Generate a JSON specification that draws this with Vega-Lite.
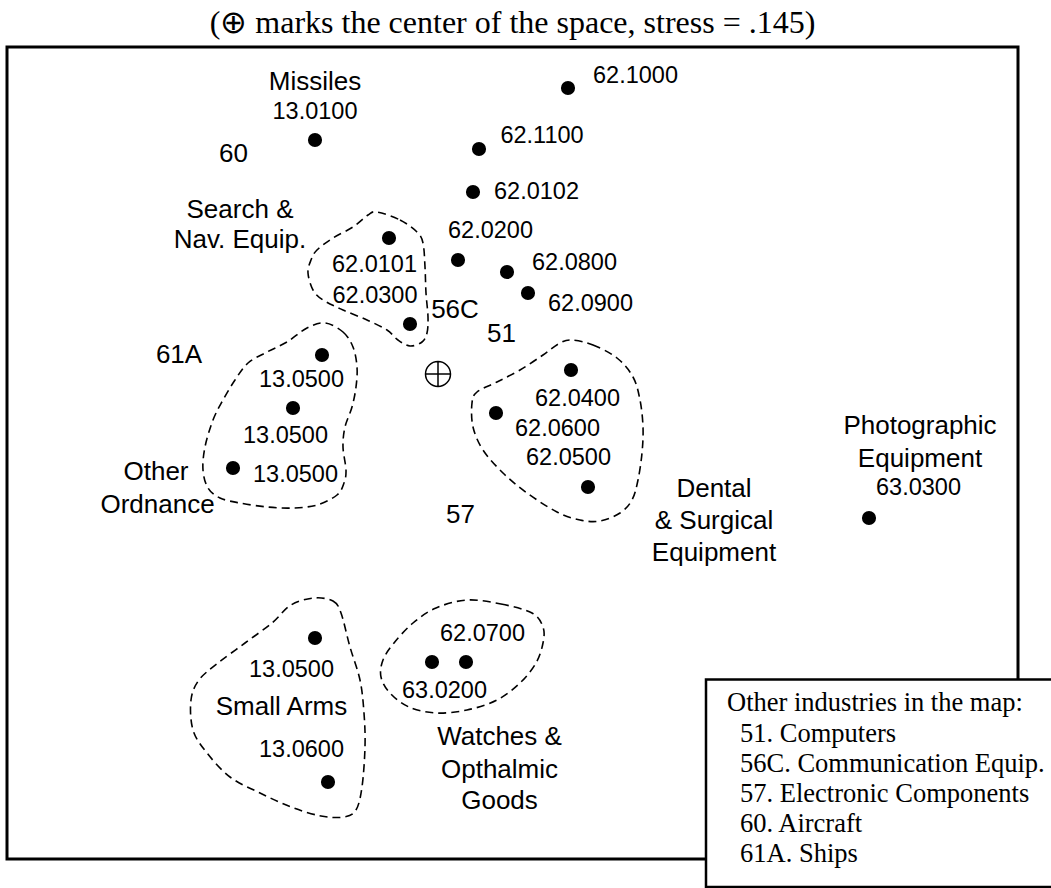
{
  "$schema": "https://vega.github.io/schema/vega-lite/v6.json",
  "width": 1011,
  "height": 812,
  "autosize": {"type": "none"},
  "padding": {"left": 7, "top": 47, "right": 33, "bottom": 29},
  "background": "white",
  "title": {
    "text": "(⊕ marks the center of the space, stress = .145)",
    "font": "Liberation Serif",
    "fontSize": 32,
    "fontWeight": "normal",
    "color": "black",
    "offset": 7
  },
  "config": {"view": {"stroke": "black", "strokeWidth": 3}},
  "encoding": {
    "x": {"field": "x", "type": "quantitative", "axis": null, "scale": {"domain": [-4.31, 5.80], "nice": false, "zero": false}},
    "y": {"field": "y", "type": "quantitative", "axis": null, "scale": {"domain": [-4.85, 3.27], "nice": false, "zero": false}}
  },
  "layer": [
    {
      "data": {"values": [
        {"shape": "nav", "ord": 1, "x": -0.61, "y": 1.62}, {"shape": "nav", "ord": 2, "x": -0.38, "y": 1.54}, {"shape": "nav", "ord": 3, "x": -0.21, "y": 1.42}, {"shape": "nav", "ord": 4, "x": -0.15, "y": 1.31}, {"shape": "nav", "ord": 5, "x": -0.13, "y": 1.07}, {"shape": "nav", "ord": 6, "x": -0.12, "y": 0.81}, {"shape": "nav", "ord": 7, "x": -0.10, "y": 0.57}, {"shape": "nav", "ord": 8, "x": -0.11, "y": 0.41}, {"shape": "nav", "ord": 9, "x": -0.16, "y": 0.32}, {"shape": "nav", "ord": 10, "x": -0.28, "y": 0.28}, {"shape": "nav", "ord": 11, "x": -0.40, "y": 0.34}, {"shape": "nav", "ord": 12, "x": -0.51, "y": 0.44}, {"shape": "nav", "ord": 13, "x": -0.71, "y": 0.54}, {"shape": "nav", "ord": 14, "x": -0.95, "y": 0.64}, {"shape": "nav", "ord": 15, "x": -1.15, "y": 0.74}, {"shape": "nav", "ord": 16, "x": -1.25, "y": 0.84}, {"shape": "nav", "ord": 17, "x": -1.30, "y": 1.01}, {"shape": "nav", "ord": 18, "x": -1.27, "y": 1.14}, {"shape": "nav", "ord": 19, "x": -1.21, "y": 1.24}, {"shape": "nav", "ord": 20, "x": -1.05, "y": 1.36}, {"shape": "nav", "ord": 21, "x": -0.85, "y": 1.47}, {"shape": "nav", "ord": 22, "x": -0.70, "y": 1.59},
        {"shape": "ord", "ord": 1, "x": -1.13, "y": 0.51}, {"shape": "ord", "ord": 2, "x": -0.95, "y": 0.42}, {"shape": "ord", "ord": 3, "x": -0.85, "y": 0.27}, {"shape": "ord", "ord": 4, "x": -0.81, "y": 0.07}, {"shape": "ord", "ord": 5, "x": -0.82, "y": -0.13}, {"shape": "ord", "ord": 6, "x": -0.86, "y": -0.33}, {"shape": "ord", "ord": 7, "x": -0.93, "y": -0.53}, {"shape": "ord", "ord": 8, "x": -0.95, "y": -0.73}, {"shape": "ord", "ord": 9, "x": -0.92, "y": -0.96}, {"shape": "ord", "ord": 10, "x": -0.94, "y": -1.09}, {"shape": "ord", "ord": 11, "x": -1.01, "y": -1.21}, {"shape": "ord", "ord": 12, "x": -1.21, "y": -1.31}, {"shape": "ord", "ord": 13, "x": -1.45, "y": -1.34}, {"shape": "ord", "ord": 14, "x": -1.71, "y": -1.33}, {"shape": "ord", "ord": 15, "x": -1.98, "y": -1.29}, {"shape": "ord", "ord": 16, "x": -2.18, "y": -1.24}, {"shape": "ord", "ord": 17, "x": -2.30, "y": -1.14}, {"shape": "ord", "ord": 18, "x": -2.35, "y": -0.96}, {"shape": "ord", "ord": 19, "x": -2.33, "y": -0.73}, {"shape": "ord", "ord": 20, "x": -2.25, "y": -0.46}, {"shape": "ord", "ord": 21, "x": -2.15, "y": -0.26}, {"shape": "ord", "ord": 22, "x": -2.03, "y": -0.06}, {"shape": "ord", "ord": 23, "x": -1.90, "y": 0.11}, {"shape": "ord", "ord": 24, "x": -1.71, "y": 0.22}, {"shape": "ord", "ord": 25, "x": -1.51, "y": 0.32}, {"shape": "ord", "ord": 26, "x": -1.31, "y": 0.46},
        {"shape": "dental", "ord": 1, "x": 1.34, "y": 0.34}, {"shape": "dental", "ord": 2, "x": 1.55, "y": 0.29}, {"shape": "dental", "ord": 3, "x": 1.79, "y": 0.16}, {"shape": "dental", "ord": 4, "x": 1.95, "y": -0.03}, {"shape": "dental", "ord": 5, "x": 2.02, "y": -0.26}, {"shape": "dental", "ord": 6, "x": 2.05, "y": -0.53}, {"shape": "dental", "ord": 7, "x": 2.04, "y": -0.79}, {"shape": "dental", "ord": 8, "x": 2.00, "y": -1.06}, {"shape": "dental", "ord": 9, "x": 1.94, "y": -1.26}, {"shape": "dental", "ord": 10, "x": 1.82, "y": -1.39}, {"shape": "dental", "ord": 11, "x": 1.62, "y": -1.47}, {"shape": "dental", "ord": 12, "x": 1.42, "y": -1.46}, {"shape": "dental", "ord": 13, "x": 1.19, "y": -1.38}, {"shape": "dental", "ord": 14, "x": 0.89, "y": -1.19}, {"shape": "dental", "ord": 15, "x": 0.65, "y": -0.99}, {"shape": "dental", "ord": 16, "x": 0.45, "y": -0.76}, {"shape": "dental", "ord": 17, "x": 0.35, "y": -0.53}, {"shape": "dental", "ord": 18, "x": 0.34, "y": -0.29}, {"shape": "dental", "ord": 19, "x": 0.39, "y": -0.18}, {"shape": "dental", "ord": 20, "x": 0.59, "y": -0.08}, {"shape": "dental", "ord": 21, "x": 0.82, "y": 0.04}, {"shape": "dental", "ord": 22, "x": 1.05, "y": 0.19}, {"shape": "dental", "ord": 23, "x": 1.22, "y": 0.31},
        {"shape": "arms", "ord": 1, "x": -1.24, "y": -2.24}, {"shape": "arms", "ord": 2, "x": -1.05, "y": -2.27}, {"shape": "arms", "ord": 3, "x": -0.97, "y": -2.39}, {"shape": "arms", "ord": 4, "x": -0.88, "y": -2.73}, {"shape": "arms", "ord": 5, "x": -0.78, "y": -3.06}, {"shape": "arms", "ord": 6, "x": -0.74, "y": -3.39}, {"shape": "arms", "ord": 7, "x": -0.73, "y": -3.73}, {"shape": "arms", "ord": 8, "x": -0.76, "y": -4.13}, {"shape": "arms", "ord": 9, "x": -0.82, "y": -4.36}, {"shape": "arms", "ord": 10, "x": -0.94, "y": -4.43}, {"shape": "arms", "ord": 11, "x": -1.17, "y": -4.42}, {"shape": "arms", "ord": 12, "x": -1.47, "y": -4.33}, {"shape": "arms", "ord": 13, "x": -1.78, "y": -4.19}, {"shape": "arms", "ord": 14, "x": -2.08, "y": -4.03}, {"shape": "arms", "ord": 15, "x": -2.31, "y": -3.79}, {"shape": "arms", "ord": 16, "x": -2.45, "y": -3.56}, {"shape": "arms", "ord": 17, "x": -2.47, "y": -3.26}, {"shape": "arms", "ord": 18, "x": -2.39, "y": -3.06}, {"shape": "arms", "ord": 19, "x": -2.20, "y": -2.89}, {"shape": "arms", "ord": 20, "x": -1.93, "y": -2.69}, {"shape": "arms", "ord": 21, "x": -1.66, "y": -2.49}, {"shape": "arms", "ord": 22, "x": -1.47, "y": -2.31},
        {"shape": "watch", "ord": 1, "x": 0.29, "y": -2.26}, {"shape": "watch", "ord": 2, "x": 0.63, "y": -2.30}, {"shape": "watch", "ord": 3, "x": 0.94, "y": -2.39}, {"shape": "watch", "ord": 4, "x": 1.05, "y": -2.53}, {"shape": "watch", "ord": 5, "x": 1.05, "y": -2.69}, {"shape": "watch", "ord": 6, "x": 0.98, "y": -2.89}, {"shape": "watch", "ord": 7, "x": 0.82, "y": -3.09}, {"shape": "watch", "ord": 8, "x": 0.59, "y": -3.26}, {"shape": "watch", "ord": 9, "x": 0.29, "y": -3.36}, {"shape": "watch", "ord": 10, "x": -0.02, "y": -3.39}, {"shape": "watch", "ord": 11, "x": -0.29, "y": -3.33}, {"shape": "watch", "ord": 12, "x": -0.48, "y": -3.19}, {"shape": "watch", "ord": 13, "x": -0.57, "y": -3.03}, {"shape": "watch", "ord": 14, "x": -0.55, "y": -2.86}, {"shape": "watch", "ord": 15, "x": -0.44, "y": -2.69}, {"shape": "watch", "ord": 16, "x": -0.25, "y": -2.49}, {"shape": "watch", "ord": 17, "x": -0.02, "y": -2.34}
      ]},
      "mark": {"type": "line", "interpolate": "cardinal-closed", "strokeDash": [8, 5], "strokeWidth": 1.6, "color": "black"},
      "encoding": {
        "detail": {"field": "shape", "type": "nominal"},
        "order": {"field": "ord", "type": "quantitative"}
      }
    },
    {
      "data": {"values": [
        {"code": "62.1000", "x": 1.30, "y": 2.86},
        {"code": "13.0100", "x": -1.23, "y": 2.34},
        {"code": "62.1100", "x": 0.41, "y": 2.25},
        {"code": "62.0102", "x": 0.35, "y": 1.82},
        {"code": "62.0101", "x": -0.49, "y": 1.36},
        {"code": "62.0200", "x": 0.20, "y": 1.14},
        {"code": "62.0800", "x": 0.69, "y": 1.02},
        {"code": "62.0900", "x": 0.90, "y": 0.81},
        {"code": "62.0300", "x": -0.28, "y": 0.50},
        {"code": "13.0500", "x": -1.16, "y": 0.19},
        {"code": "13.0500", "x": -1.45, "y": -0.34},
        {"code": "13.0500", "x": -2.05, "y": -0.94},
        {"code": "62.0400", "x": 1.33, "y": 0.04},
        {"code": "62.0600", "x": 0.58, "y": -0.39},
        {"code": "62.0500", "x": 1.50, "y": -1.13},
        {"code": "63.0300", "x": 4.31, "y": -1.44},
        {"code": "13.0500", "x": -1.23, "y": -2.64},
        {"code": "13.0600", "x": -1.10, "y": -4.08},
        {"code": "62.0700", "x": 0.28, "y": -2.88},
        {"code": "63.0200", "x": -0.06, "y": -2.88}
      ]},
      "mark": {"type": "circle", "size": 200, "color": "black", "opacity": 1}
    },
    {
      "data": {"values": [
        {"label": "62.1000", "x": 1.975, "y": 2.91},
        {"label": "13.0100", "x": -1.23, "y": 2.55},
        {"label": "62.1100", "x": 1.04, "y": 2.31},
        {"label": "62.0102", "x": 0.985, "y": 1.75},
        {"label": "62.0200", "x": 0.525, "y": 1.36},
        {"label": "62.0101", "x": -0.635, "y": 1.02},
        {"label": "62.0800", "x": 1.365, "y": 1.04},
        {"label": "62.0300", "x": -0.63, "y": 0.71},
        {"label": "62.0900", "x": 1.525, "y": 0.63},
        {"label": "13.0500", "x": -1.365, "y": -0.13},
        {"label": "13.0500", "x": -1.525, "y": -0.69},
        {"label": "13.0500", "x": -1.425, "y": -1.08},
        {"label": "62.0400", "x": 1.395, "y": -0.32},
        {"label": "62.0600", "x": 1.195, "y": -0.62},
        {"label": "62.0500", "x": 1.305, "y": -0.91},
        {"label": "63.0300", "x": 4.805, "y": -1.21},
        {"label": "13.0500", "x": -1.465, "y": -3.03},
        {"label": "13.0600", "x": -1.365, "y": -3.83},
        {"label": "62.0700", "x": 0.445, "y": -2.67},
        {"label": "63.0200", "x": 0.065, "y": -3.24}
      ]},
      "mark": {"type": "text", "font": "Liberation Sans", "fontSize": 23.5, "align": "center", "baseline": "alphabetic", "color": "black"},
      "encoding": {"text": {"field": "label", "type": "nominal"}}
    },
    {
      "data": {"values": [
        {"label": "Missiles", "x": -1.23, "y": 2.84},
        {"label": "Search &", "x": -1.98, "y": 1.56},
        {"label": "Nav. Equip.", "x": -1.98, "y": 1.26},
        {"label": "Other", "x": -2.82, "y": -1.06},
        {"label": "Ordnance", "x": -2.805, "y": -1.39},
        {"label": "61A", "x": -2.59, "y": 0.11},
        {"label": "60", "x": -2.045, "y": 2.12},
        {"label": "56C", "x": 0.17, "y": 0.56},
        {"label": "51", "x": 0.635, "y": 0.32},
        {"label": "57", "x": 0.225, "y": -1.49},
        {"label": "Dental", "x": 2.76, "y": -1.23},
        {"label": "& Surgical", "x": 2.76, "y": -1.55},
        {"label": "Equipment", "x": 2.76, "y": -1.87},
        {"label": "Photographic", "x": 4.82, "y": -0.60},
        {"label": "Equipment", "x": 4.82, "y": -0.93},
        {"label": "Small Arms", "x": -1.565, "y": -3.41},
        {"label": "Watches &", "x": 0.615, "y": -3.71},
        {"label": "Opthalmic", "x": 0.615, "y": -4.04},
        {"label": "Goods", "x": 0.615, "y": -4.35}
      ]},
      "mark": {"type": "text", "font": "Liberation Sans", "fontSize": 26, "align": "center", "baseline": "alphabetic", "color": "black"},
      "encoding": {"text": {"field": "label", "type": "nominal"}}
    },
    {
      "data": {"values": [{"name": "center of the space", "x": 0, "y": 0}]},
      "mark": {"type": "point", "shape": "M-1,0A1,1,0,1,1,1,0A1,1,0,1,1,-1,0ZM-1,0L1,0M0,-1L0,1", "size": 625, "filled": false, "stroke": "black", "strokeWidth": 1.5, "opacity": 1}
    },
    {
      "data": {"values": [{"x": 2.68, "x2": 6.22, "y": -3.055, "y2": -5.13}]},
      "mark": {"type": "rect", "fill": "white", "stroke": "black", "strokeWidth": 2.5},
      "encoding": {"x2": {"field": "x2"}, "y2": {"field": "y2"}}
    },
    {
      "data": {"values": [
        {"line": "Other industries in the map:", "x": 2.89, "y": -3.37},
        {"line": "51. Computers", "x": 3.02, "y": -3.68},
        {"line": "56C. Communication Equip.", "x": 3.02, "y": -3.98},
        {"line": "57. Electronic Components", "x": 3.02, "y": -4.28},
        {"line": "60. Aircraft", "x": 3.02, "y": -4.58},
        {"line": "61A. Ships", "x": 3.02, "y": -4.88}
      ]},
      "mark": {"type": "text", "font": "Liberation Serif", "fontSize": 26.5, "align": "left", "baseline": "alphabetic", "color": "black"},
      "encoding": {"text": {"field": "line", "type": "nominal"}}
    }
  ]
}
